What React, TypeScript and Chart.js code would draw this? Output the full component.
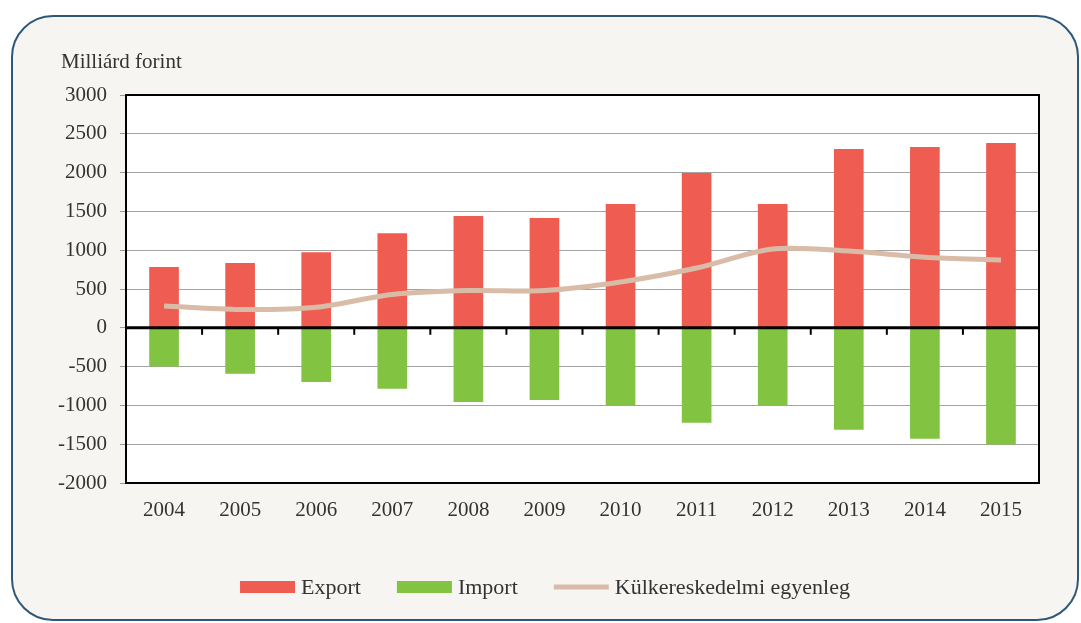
import React, { useEffect, useRef } from "react";
import { Chart, registerables } from "chart.js";

Chart.register(...registerables);

const years = ["2004", "2005", "2006", "2007", "2008", "2009", "2010", "2011", "2012", "2013", "2014", "2015"];
const exportValues = [785, 835, 975, 1220, 1440, 1415, 1595, 1995, 1595, 2305, 2330, 2380];
const importValues = [-498, -592, -700, -785, -955, -930, -1005, -1222, -1005, -1315, -1430, -1505];
const balanceValues = [280, 235, 265, 430, 480, 480, 590, 770, 1015, 990, 910, 875];
const yTitle = "Milliárd forint";
const seriesLabels = ["Export", "Import", "Külkereskedelmi egyenleg"];

const FONT = "'Liberation Serif', 'DejaVu Serif', serif";
const TEXT = "#333333";

const framePlugin = {
  id: "frame",
  beforeDraw(chart: any) {
    const { ctx, chartArea } = chart;
    ctx.save();
    ctx.fillStyle = "#ffffff";
    ctx.fillRect(chartArea.left, chartArea.top, chartArea.right - chartArea.left, chartArea.bottom - chartArea.top);
    ctx.restore();
  },
  afterDatasetsDraw(chart: any) {
    const { ctx, chartArea, scales } = chart;
    const y0 = scales.y.getPixelForValue(0);
    ctx.save();
    ctx.strokeStyle = "#000000";
    ctx.lineWidth = 3;
    ctx.beginPath();
    ctx.moveTo(chartArea.left, y0);
    ctx.lineTo(chartArea.right, y0);
    ctx.stroke();
    const n = years.length;
    const step = (chartArea.right - chartArea.left) / n;
    ctx.lineWidth = 2;
    for (let i = 0; i <= n; i++) {
      const x = chartArea.left + i * step;
      ctx.beginPath();
      ctx.moveTo(x, y0);
      ctx.lineTo(x, y0 + 7);
      ctx.stroke();
    }
    ctx.lineWidth = 2;
    ctx.beginPath();
    ctx.moveTo(chartArea.left, chartArea.top);
    ctx.lineTo(chartArea.right, chartArea.top);
    ctx.lineTo(chartArea.right, chartArea.bottom);
    ctx.stroke();
    ctx.restore();
  },
  afterDraw(chart: any) {
    const { ctx } = chart;
    ctx.save();
    ctx.font = `21px ${FONT}`;
    ctx.fillStyle = TEXT;
    ctx.textBaseline = "alphabetic";
    ctx.textAlign = "left";
    ctx.fillText(yTitle, 61, 68);

    ctx.font = `22px ${FONT}`;
    const ds = chart.data.datasets;
    const order = [0, 1, 2];
    const boxW = 55;
    const gapText = 6;
    const gapItem = 36;
    let total = 0;
    const widths = order.map((i) => ctx.measureText(ds[i].label).width);
    order.forEach((_, k) => {
      total += boxW + gapText + widths[k];
      if (k < order.length - 1) total += gapItem;
    });
    let x = 545 - total / 2;
    const cy = 587;
    order.forEach((i, k) => {
      const d = ds[i];
      if (d.type === "line") {
        ctx.strokeStyle = d.borderColor;
        ctx.lineWidth = 5;
        ctx.lineCap = "butt";
        ctx.beginPath();
        ctx.moveTo(x, cy);
        ctx.lineTo(x + boxW, cy);
        ctx.stroke();
      } else {
        ctx.fillStyle = d.backgroundColor;
        ctx.fillRect(x, cy - 6, boxW, 12);
      }
      x += boxW + gapText;
      ctx.fillStyle = TEXT;
      ctx.textBaseline = "alphabetic";
      ctx.fillText(d.label, x, cy + 7);
      x += widths[k] + gapItem;
    });
    ctx.restore();
  },
};

export default function App() {
  const ref = useRef<HTMLCanvasElement | null>(null);

  useEffect(() => {
    if (!ref.current) return;
    const chart = new Chart(ref.current, {
      type: "bar",
      data: {
        labels: years,
        datasets: [
          {
            type: "bar",
            label: seriesLabels[0],
            data: exportValues,
            backgroundColor: "#ef5d52",
            borderWidth: 0,
            order: 1,
          },
          {
            type: "bar",
            label: seriesLabels[1],
            data: importValues,
            backgroundColor: "#82c342",
            borderWidth: 0,
            order: 1,
          },
          {
            type: "line",
            label: seriesLabels[2],
            data: balanceValues,
            borderColor: "#d9bca8",
            borderWidth: 5,
            pointRadius: 0,
            tension: 0.3,
            fill: false,
            order: 0,
          } as any,
        ],
      },
      options: {
        responsive: false,
        animation: false,
        maintainAspectRatio: false,
        layout: { padding: { left: 0, top: 95, right: 42, bottom: 0 } },
        datasets: {
          bar: { grouped: false, categoryPercentage: 1, barPercentage: 0.39 },
        } as any,
        plugins: {
          legend: { display: false },
          title: { display: false },
          tooltip: { enabled: false },
        },
        scales: {
          x: {
            offset: true,
            grid: { display: false, drawTicks: false },
            border: { display: true, color: "#000000", width: 2 },
            ticks: {
              color: TEXT,
              padding: 15,
              font: { family: FONT, size: 21 },
              maxRotation: 0,
            },
            afterFit: (s: any) => {
              s.height = 140;
            },
          },
          y: {
            min: -2000,
            max: 3000,
            ticks: {
              stepSize: 500,
              color: TEXT,
              padding: 13,
              font: { family: FONT, size: 21 },
              callback: (v: any) => String(v),
            },
            grid: {
              color: (c: any) => (c.tick && c.tick.value === 0 ? "rgba(0,0,0,0)" : "#a3a3a3"),
              lineWidth: 1,
              drawTicks: true,
              tickLength: 6,
              tickColor: "#9a9a9a",
            },
            border: { display: true, color: "#000000", width: 2 },
            afterFit: (s: any) => {
              s.width = 126;
            },
          },
        },
      },
      plugins: [framePlugin],
    });
    return () => chart.destroy();
  }, []);

  return (
    <div style={{ position: "fixed", left: 0, top: 0, width: 1081, height: 623, background: "#ffffff", overflow: "hidden" }}>
      <div
        style={{
          position: "absolute",
          left: 11,
          top: 15,
          width: 1068,
          height: 606,
          boxSizing: "border-box",
          border: "2px solid #2f5878",
          borderRadius: 42,
          background: "#f7f5f2",
        }}
      />
      <canvas ref={ref} width={1081} height={623} style={{ position: "absolute", left: 0, top: 0, width: 1081, height: 623 }} />
    </div>
  );
}
